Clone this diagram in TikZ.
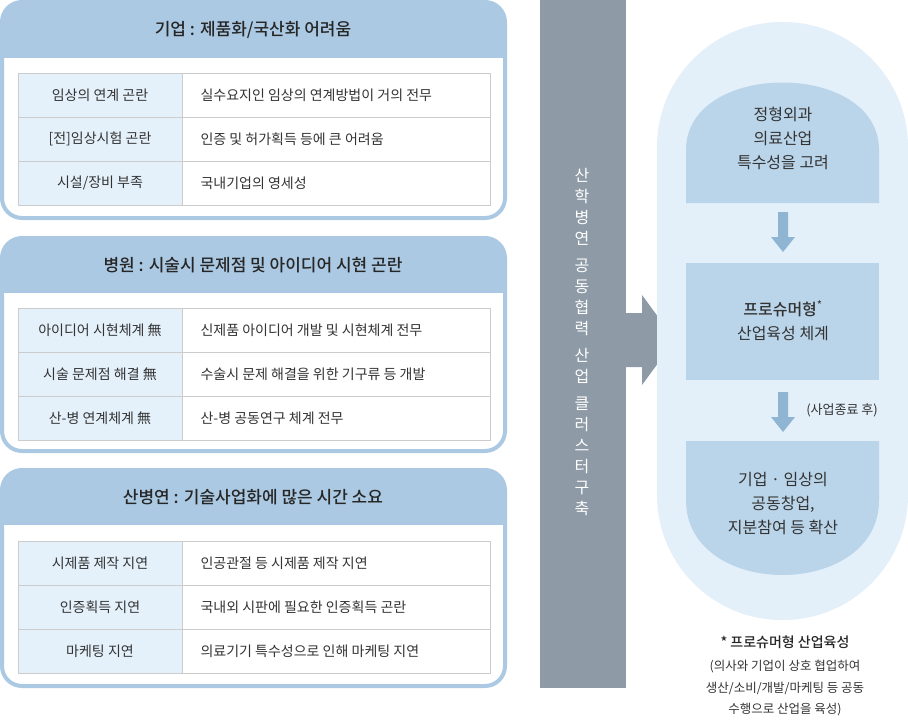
\documentclass[tikz,border=0pt]{standalone}
\usepackage{fontspec}
\setmainfont{Noto Sans CJK KR}
\newfontfamily\kb{Noto Sans CJK KR Medium}
\begin{document}
\begin{tikzpicture}[x=1pt,y=-1pt,
  hdr/.style={font=\fontsize{17}{20}\selectfont\kb,text=black!85},
  cell/.style={font=\fontsize{14}{16}\selectfont,text=black!80},
  grid/.style={draw=black!20,line width=1pt},
  dar/.style={fill=arrowc,draw=none}]
\definecolor{hblue}{HTML}{ABC9E2}
\definecolor{lcell}{HTML}{E4F1FB}
\definecolor{barg}{HTML}{8E9AA6}
\definecolor{capc}{HTML}{E3EFF9}
\definecolor{boxc}{HTML}{BAD5EA}
\definecolor{arrowc}{HTML}{8FB5D3}
\useasboundingbox (0,0) rectangle (908,720);
% panels
\foreach \t/\h/\b/\tt/\ttitle [count=\i] in {
  0/58/220/73/{기업 : 제품화/국산화 어려움},
  236/293/453/308/{병원 : 시술시 문제점 및 아이디어 시현 곤란},
  468/525/688/541/{산병연 : 기술사업화에 많은 시간 소요}}{
  \begin{scope}
  \clip[rounded corners=20] (2,\t+2) rectangle (505,\b-2);
  \fill[white] (0,\t) rectangle (508,\b);
  \fill[hblue] (0,\t) rectangle (508,\h);
  \end{scope}
  \draw[hblue,line width=4pt,rounded corners=20] (2,\t+2) rectangle (505,\b-2);
  \node[hdr] (h\i) at (253,{(\t+\h)/2+1}) {\ttitle};
  \fill[lcell] (18,\tt) rectangle (182,\tt+132);
  \draw[grid] (18,\tt) rectangle (490,\tt+132);
  \draw[grid] (182,\tt) -- (182,\tt+132);
  \draw[grid] (18,\tt+44) -- (490,\tt+44);
  \draw[grid] (18,\tt+88) -- (490,\tt+88);
}
\foreach \y/\a/\b [count=\j] in {
 95/{임상의 연계 곤란}/{실수요지인 임상의 연계방법이 거의 전무},
 139/{[전]임상시험 곤란}/{인증 및 허가획득 등에 큰 어려움},
 183/{시설/장비 부족}/{국내기업의 영세성},
 330/{아이디어 시현체계 無}/{신제품 아이디어 개발 및 시현체계 전무},
 374/{시술 문제점 해결 無}/{수술시 문제 해결을 위한 기구류 등 개발},
 418/{산-병 연계체계 無}/{산-병 공동연구 체계 전무},
 563/{시제품 제작 지연}/{인공관절 등 시제품 제작 지연},
 607/{인증획득 지연}/{국내외 시판에 필요한 인증획득 곤란},
 651/{마케팅 지연}/{의료기기 특수성으로 인해 마케팅 지연}}{
 \node[cell] (l\j) at (100,\y) {\a};
 \node[cell,anchor=west] (r\j) at (197,\y) {\b};
}
% gray bar and arrow
\fill[barg] (540,0) rectangle (626,688);
\fill[barg] (625,313) -- (642,313) -- (642,295) -- (675,340) -- (642,385) -- (642,367) -- (625,367) -- cycle;
\node[text=white,font=\fontsize{16}{21}\selectfont,align=center,text width=20] (vt) at (582,342)
 {산\\학\\병\\연\\[6pt]공\\동\\협\\력\\[6pt]산\\업\\[6pt]클\\러\\스\\터\\구\\축};
% capsule
\fill[capc,rounded corners=125] (657,22) rectangle (908,620);
\fill[boxc] (686,203) -- (686,150) .. controls (686,60) and (879,60) .. (879,150) -- (879,203) -- cycle;
\fill[boxc] (686,263) rectangle (879,380);
\fill[boxc] (686,441) -- (686,500) .. controls (686,600) and (879,600) .. (879,500) -- (879,441) -- cycle;
\node[font=\fontsize{16}{24}\selectfont,align=center,text=black!80] (b1) at (783,138) {정형외과\\의료산업\\특수성을 고려};
\node[font=\fontsize{16}{24}\selectfont,align=center,text=black!80] (b2) at (783,321) {{\kb 프로슈머형}\textsuperscript{*}\\산업육성 체계};
\node[font=\fontsize{16}{24}\selectfont,align=center,text=black!80] (b3) at (783,504) {기업 · 임상의\\공동창업,\\지분참여 등 확산};
\fill[arrowc] (778,212) -- (788,212) -- (788,237) -- (795,237) -- (783,252) -- (771,237) -- (778,237) -- cycle;
\fill[arrowc] (778,392) -- (788,392) -- (788,417) -- (795,417) -- (783,432) -- (771,417) -- (778,417) -- cycle;
\node[font=\fontsize{13}{15}\selectfont,text=black!80] (lab) at (842,410) {(사업종료 후)};
\node[font=\fontsize{14}{16}\selectfont\kb,text=black!85] (fn) at (785,642) {* 프로슈머형 산업육성};
\node[font=\fontsize{12.5}{21.5}\selectfont,align=center,text=black!80] (fn2) at (785,688) {(의사와 기업이 상호 협업하여\\생산/소비/개발/마케팅 등 공동\\수행으로 산업을 육성)};
\end{tikzpicture}
\end{document}
